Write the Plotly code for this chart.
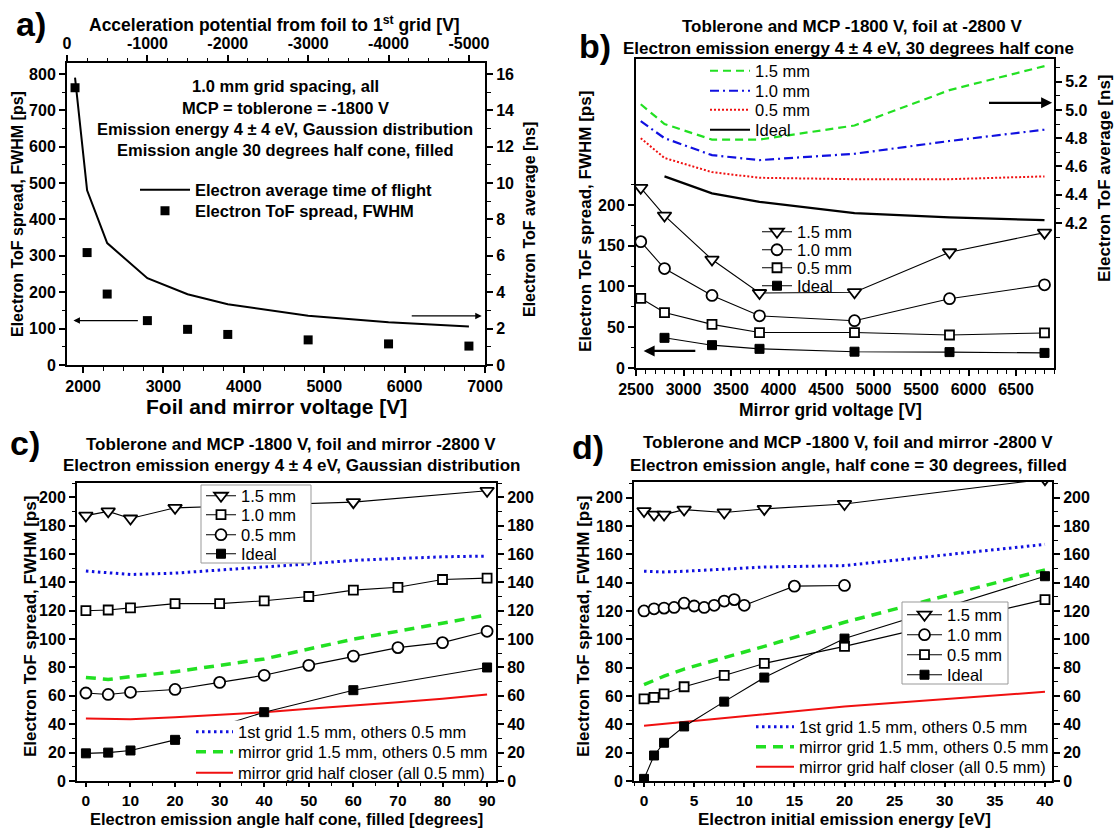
import plotly.graph_objects as go

W, H = 1115, 829
FONT = "Liberation Sans, Arial, sans-serif"

# ---------------- data: panel a ----------------
a_voltage = [1900, 2050, 2300, 2800, 3300, 3800, 4800, 5800, 6800]
a_spread_ps = [762, 309, 195, 122, 98, 84, 69, 58, 52]
a_tof_ns = [15.8, 9.6, 6.7, 4.77, 3.89, 3.34, 2.71, 2.35, 2.11]
a_top_ticks = [0, -1000, -2000, -3000, -4000, -5000]
a_top_labels = ["0", "-1000", "-2000", "-3000", "-4000", "-5000"]

# ---------------- data: panel b ----------------
b_voltage = [2550, 2800, 3300, 3800, 4800, 5800, 6800]
b_ideal_voltage = [2800, 3300, 3800, 4800, 5800, 6800]
b_spread_15 = [221, 187, 133, 92, 93, 142, 166]
b_spread_10 = [155, 122, 89, 64, 58, 85, 102]
b_spread_05 = [85.5, 68, 53.5, 43.5, 43.5, 40.5, 43]
b_spread_ideal = [37, 28, 23.5, 20, 19.5, 18.5]
b_tof_15 = [5.04, 4.90, 4.79, 4.79, 4.89, 5.14, 5.31]
b_tof_10 = [4.92, 4.80, 4.68, 4.645, 4.69, 4.78, 4.86]
b_tof_05 = [4.80, 4.66, 4.56, 4.52, 4.51, 4.51, 4.53]
b_tof_ideal = [4.53, 4.41, 4.35, 4.27, 4.24, 4.22]
b_left_ticks = [0, 50, 100, 150, 200]
b_left_minor = [25, 75, 125, 175, 225]
b_right_ticks = [4.2, 4.4, 4.6, 4.8, 5.0, 5.2]
b_right_minor = [4.1, 4.3, 4.5, 4.7, 4.9, 5.1, 5.3]

# ---------------- data: panel c ----------------
c_angle_tri = [0, 5, 10, 20, 60, 90]
c_spread_15 = [187, 190, 185, 192.5, 196.5, 204.5]
c_angle = [0, 5, 10, 20, 30, 40, 50, 60, 70, 80, 90]
c_spread_10 = [120, 120.5, 122, 125, 125, 127, 130, 134.5, 136.5, 142, 143]
c_spread_05 = [62, 61, 62.5, 64.5, 69.5, 74.5, 81.5, 88, 94, 97.5, 105.5]
c_angle_ideal = [0, 5, 10, 20, 40, 60, 90]
c_spread_ideal = [19.5, 20, 21.5, 29, 48.5, 64, 80]
c_first_grid = [148, 147, 145.5, 146.5, 148.5, 150.5, 153, 155.5, 157, 158, 158.5]
c_mirror_grid = [73, 71.5, 73.5, 77, 81.5, 86, 93, 100, 105.5, 111, 117]
c_half_closer = [44, 43.5, 43.5, 45, 46.5, 48.5, 51, 53, 55.5, 58, 61]

# ---------------- data: panel d ----------------
d_energy = [0, 1, 2, 4, 8, 12, 20, 40]
d_spread_15 = [190.5, 188, 188, 191.5, 189.5, 192, 195.5, 213]
d_energy_circ = [0, 1, 2, 3, 4, 5, 6, 7, 8, 9, 10, 15, 20]
d_spread_10 = [120, 121.5, 122, 122.5, 125.5, 123.5, 122.5, 124, 127, 128, 124, 137.5, 138]
d_spread_05 = [58, 59, 61.5, 66.5, 74.5, 83, 95, 128]
d_spread_ideal = [1.5, 18, 27, 38.5, 56, 73, 100.5, 144.5]
d_first_grid = [148, 147.5, 147.5, 148, 149.5, 151, 152, 167]
d_mirror_grid = [68, 71, 74, 79, 87, 95, 112, 149]
d_half_closer = [39, 39.7, 40.4, 41.8, 44.5, 47.2, 52.5, 63]

legend_names = ["1.5 mm", "1.0 mm", "0.5 mm", "Ideal"]
line_names = ["1st grid 1.5 mm, others 0.5 mm",
              "mirror grid 1.5 mm, others 0.5 mm",
              "mirror grid half closer (all 0.5 mm)"]

GREEN = "#22e022"
BLUE = "#1010e0"
RED = "#f01010"


def px(x):
    return x / W


def py(y):
    return 1 - y / H


fig = go.Figure()
legends = {}
LEGFONT = dict(family=FONT, size=16.5, color="black")


def new_legend(x, y, **kw):
    """One legend entry per legend so rows can be spaced like the reference."""
    key = "legend" if not legends else "legend%d" % (len(legends) + 1)
    d = dict(x=px(x), y=py(y), xanchor="left", yanchor="middle",
             bgcolor="rgba(0,0,0,0)", borderwidth=0, font=LEGFONT)
    d.update(kw)
    legends[key] = d
    return key


# ---------- panel a ----------
a_leg_rows = [190, 211]
AFONT = dict(family=FONT, size=16.5, color="black", weight="bold")
fig.add_trace(go.Scatter(x=a_voltage, y=a_tof_ns, xaxis="x", yaxis="y2", mode="lines",
                         line=dict(color="black", width=2),
                         name="Electron average time of flight",
                         legend=new_legend(135, a_leg_rows[0], font=AFONT, itemwidth=50)))
fig.add_trace(go.Scatter(x=a_voltage, y=a_spread_ps, xaxis="x", yaxis="y", mode="markers",
                         marker=dict(symbol="square", size=9, color="black"),
                         name="Electron ToF spread, FWHM",
                         legend=new_legend(135, a_leg_rows[1], font=AFONT, itemwidth=50)))
fig.add_trace(go.Scatter(x=[None], y=[None], xaxis="x2", yaxis="y", showlegend=False,
                         hoverinfo="skip"))

# ---------- panel b ----------
b_line_rows = [71, 91, 110, 130]
b_line_styles = [(b_tof_15, GREEN, "8px,5px", 2.2, b_voltage),
                 (b_tof_10, BLUE, "9px,4px,2px,4px", 2.2, b_voltage),
                 (b_tof_05, RED, "2px,2px", 2.0, b_voltage),
                 (b_tof_ideal, "black", "solid", 2.2, b_ideal_voltage)]
for (vals, col, dash, w, xs), nm, ry in zip(b_line_styles, legend_names, b_line_rows):
    fig.add_trace(go.Scatter(x=xs, y=vals, xaxis="x3", yaxis="y4", mode="lines",
                             line=dict(color=col, dash=dash, width=w), name=nm,
                             legend=new_legend(705, ry, itemwidth=40)))

mk_open_tri = dict(symbol="triangle-down", size=12, color="white",
                   line=dict(color="black", width=1.8))
mk_open_circ = dict(symbol="circle", size=11, color="white",
                    line=dict(color="black", width=1.8))
mk_open_sq = dict(symbol="square", size=9, color="white",
                  line=dict(color="black", width=1.8))
mk_fill_sq = dict(symbol="square", size=9, color="black",
                  line=dict(color="black", width=1))
LW = dict(color="black", width=1.1)

b_mark_rows = [232, 250, 268, 286]
b_marker_series = [(b_voltage, b_spread_15, mk_open_tri),
                   (b_voltage, b_spread_10, mk_open_circ),
                   (b_voltage, b_spread_05, mk_open_sq),
                   (b_ideal_voltage, b_spread_ideal, mk_fill_sq)]
for (xs, ys, mk), nm, ry in zip(b_marker_series, legend_names, b_mark_rows):
    fig.add_trace(go.Scatter(x=xs, y=ys, xaxis="x3", yaxis="y3", mode="lines+markers",
                             line=LW, marker=mk, name=nm, legend=new_legend(757, ry)))

# ---------- panel c ----------
c_line_rows = [732, 752, 773]
c_lines = [(c_first_grid, BLUE, "2.5px,3.5px", 3),
           (c_mirror_grid, GREEN, "10px,7px", 3.5),
           (c_half_closer, RED, "solid", 2)]
for (vals, col, dash, w), nm, ry in zip(c_lines, line_names, c_line_rows):
    fig.add_trace(go.Scatter(x=c_angle, y=vals, xaxis="x4", yaxis="y5", mode="lines",
                             line=dict(color=col, dash=dash, width=w), name=nm,
                             legend=new_legend(191, ry, itemwidth=37)))
c_mark_rows = [496, 515, 535, 554]
c_marker_series = [(c_angle_tri, c_spread_15, mk_open_tri),
                   (c_angle, c_spread_10, mk_open_sq),
                   (c_angle, c_spread_05, mk_open_circ),
                   (c_angle_ideal, c_spread_ideal, mk_fill_sq)]
for (xs, ys, mk), nm, ry in zip(c_marker_series, legend_names, c_mark_rows):
    fig.add_trace(go.Scatter(x=xs, y=ys, xaxis="x4", yaxis="y5", mode="lines+markers",
                             line=LW, marker=mk, name=nm, legend=new_legend(201, ry)))
fig.add_trace(go.Scatter(x=[None], y=[None], xaxis="x4", yaxis="y6", showlegend=False,
                         hoverinfo="skip"))

# ---------- panel d ----------
d_line_rows = [727, 747, 767]
d_lines = [(d_first_grid, BLUE, "2.5px,3.5px", 3),
           (d_mirror_grid, GREEN, "10px,7px", 3.5),
           (d_half_closer, RED, "solid", 2)]
for (vals, col, dash, w), nm, ry in zip(d_lines, line_names, d_line_rows):
    fig.add_trace(go.Scatter(x=d_energy, y=vals, xaxis="x5", yaxis="y7", mode="lines",
                             line=dict(color=col, dash=dash, width=w), name=nm,
                             legend=new_legend(751, ry, itemwidth=38)))
d_mark_rows = [615, 635, 655, 675]
d_marker_series = [(d_energy, d_spread_15, mk_open_tri),
                   (d_energy_circ, d_spread_10, mk_open_circ),
                   (d_energy, d_spread_05, mk_open_sq),
                   (d_energy, d_spread_ideal, mk_fill_sq)]
for (xs, ys, mk), nm, ry in zip(d_marker_series, legend_names, d_mark_rows):
    fig.add_trace(go.Scatter(x=xs, y=ys, xaxis="x5", yaxis="y7", mode="lines+markers",
                             line=LW, marker=mk, name=nm,
                             legend=new_legend(902, ry, itemwidth=35)))
fig.add_trace(go.Scatter(x=[None], y=[None], xaxis="x5", yaxis="y8", showlegend=False,
                         hoverinfo="skip"))


# ---------- axes ----------
TICKFONT = dict(family=FONT, size=16, color="black", weight="bold")
TICKFONT_CD = dict(family=FONT, size=15.5, color="black", weight="bold")


def ax(domain, rng, **kw):
    d = dict(domain=domain, range=rng, showline=True, linecolor="black", linewidth=2,
             ticks="outside", ticklen=6, tickwidth=1.5, tickcolor="black",
             showgrid=False, zeroline=False, tickfont=TICKFONT, fixedrange=True)
    d.update(kw)
    return d


def minor(**kw):
    d = dict(ticks="outside", ticklen=3.5, tickwidth=1.3, tickcolor="black", showgrid=False)
    d.update(kw)
    return d


ax_a_x = [px(67), px(485)]
ax_a_y = [py(365), py(63)]
ax_b_x = [px(636), px(1054)]
ax_b_y = [py(368), py(59)]
ax_c_x = [px(77), px(496)]
ax_c_y = [py(781), py(483)]
ax_d_x = [px(634), px(1052)]
ax_d_y = [py(781), py(482)]

layout_axes = dict(
    xaxis=ax(ax_a_x, [1800, 7000], anchor="y", tickvals=[2000, 3000, 4000, 5000, 6000, 7000],
             minor=minor(dtick=250, tick0=0)),
    xaxis2=ax(ax_a_x, [0, -5200], anchor="y", overlaying="x", side="top",
              tickvals=a_top_ticks, ticktext=a_top_labels, minor=minor(dtick=250, tick0=0)),
    yaxis=ax(ax_a_y, [0, 830], anchor="x", dtick=100, minor=minor(dtick=50, tick0=0)),
    yaxis2=ax(ax_a_y, [0, 16.6], anchor="x", overlaying="y", side="right", dtick=2,
              minor=minor(dtick=1, tick0=0)),

    xaxis3=ax(ax_b_x, [2500, 6900], anchor="y3", dtick=500, mirror=True,
              minor=minor(dtick=100, tick0=0)),
    yaxis3=ax(ax_b_y, [0, 379], anchor="x3", tickvals=b_left_ticks,
              minor=minor(tickvals=b_left_minor)),
    yaxis4=ax(ax_b_y, [3.175, 5.36], anchor="x3", overlaying="y3", side="right",
              tickvals=b_right_ticks, tickformat=".1f", minor=minor(tickvals=b_right_minor)),

    xaxis4=ax(ax_c_x, [-2, 92], anchor="y5", dtick=10, mirror=True, ticklen=4,
              tickfont=TICKFONT_CD, minor=minor(dtick=5, tick0=0, ticklen=3)),
    yaxis5=ax(ax_c_y, [0, 210], anchor="x4", dtick=20, minor=minor(dtick=10, tick0=0)),
    yaxis6=ax(ax_c_y, [0, 210], anchor="x4", overlaying="y5", side="right", dtick=20,
              minor=minor(dtick=10, tick0=0)),

    xaxis5=ax(ax_d_x, [-1, 40.7], anchor="y7", dtick=5, mirror=True, ticklen=4,
              tickfont=TICKFONT_CD, minor=minor(dtick=1, tick0=0, ticklen=3)),
    yaxis7=ax(ax_d_y, [0, 211], anchor="x5", dtick=20, minor=minor(dtick=10, tick0=0)),
    yaxis8=ax(ax_d_y, [0, 211], anchor="x5", overlaying="y7", side="right", dtick=20,
              minor=minor(dtick=10, tick0=0)),
)

# ---------- legend boxes (white backgrounds / frames) ----------
shapes = [
    dict(type="rect", xref="paper", yref="paper", x0=px(201), x1=px(311), y0=py(485),
         y1=py(563), fillcolor="white", line=dict(color="#999999", width=1), layer="above"),
    dict(type="rect", xref="paper", yref="paper", x0=px(902), x1=px(1008), y0=py(602),
         y1=py(684), fillcolor="white", line=dict(color="#999999", width=1), layer="above"),
    dict(type="rect", xref="paper", yref="paper", x0=px(181), x1=px(494), y0=py(720.5),
         y1=py(779), fillcolor="white", line=dict(width=0), layer="above"),
]

# ---------- annotations ----------
anns = []


def txt(x, y, s, size=15, bold=True, angle=0, xanchor="center"):
    anns.append(dict(x=px(x), y=py(y), xref="paper", yref="paper", text=s, showarrow=False,
                     textangle=angle, xanchor=xanchor, yanchor="middle",
                     font=dict(family=FONT, size=size, color="black",
                               weight="bold" if bold else "normal")))


TS = 17      # panel title size
AS = 17      # axis title size

# panel labels
txt(31, 24, "a)", size=34)
txt(595, 46, "b)", size=34)
txt(25, 443, "c)", size=34)
txt(588, 447, "d)", size=34)

# panel a texts
txt(274, 24, "Acceleration potential from foil to 1<sup>st</sup> grid [V]", size=17.5)
txt(276, 406, "Foil and mirror voltage [V]", size=21)
txt(17, 214, "Electron ToF spread, FWHM [ps]", size=16, angle=-90)
txt(529, 220, "Electron ToF average [ns]", size=16, angle=-90)
for yy, s in zip([86, 108, 129, 150],
                 ["1.0 mm grid spacing, all", "MCP = toblerone = -1800 V",
                  "Emission energy 4 ± 4 eV, Gaussion distribution",
                  "Emission angle 30 degrees half cone, filled"]):
    txt(285, yy, s, size=16.5)

# panel b texts
txt(852, 27, "Toblerone and MCP -1800 V, foil at -2800 V", size=TS)
txt(848, 48, "Electron emission energy 4 ± 4 eV, 30 degrees half cone", size=TS)
txt(830, 410, "Mirror grid voltage [V]", size=17.5)
txt(585, 222, "Electron ToF spread, FWHM [ps]", size=AS, angle=-90)
txt(1104, 178, "Electron ToF average [ns]", size=AS, angle=-90)

# panel c texts
txt(291, 444, "Toblerone and MCP -1800 V, foil and mirror -2800 V", size=TS)
txt(291, 465, "Electron emission energy 4 ± 4 eV, Gaussian distribution", size=TS)
txt(286, 819, "Electron emission angle half cone, filled [degrees]", size=16.5)
txt(30, 627, "Electron ToF spread, FWHM [ps]", size=AS, angle=-90)

# panel d texts
txt(848, 443, "Toblerone and MCP -1800 V, foil and mirror -2800 V", size=TS)
txt(848, 465, "Electron emission angle, half cone = 30 degrees, filled", size=TS)
txt(844, 819, "Electron initial emission energy [eV]", size=17)
txt(583, 627, "Electron ToF spread, FWHM [ps]", size=AS, angle=-90)


def arrow(x0, x1, y, xr, yr, width, head):
    anns.append(dict(x=x1, y=y, ax=x0, ay=y, xref=xr, yref=yr, axref=xr, ayref=yr,
                     showarrow=True, arrowhead=head, arrowsize=1.0, arrowwidth=width,
                     arrowcolor="black", text=""))


arrow(2700, 1880, 122, "x", "y", 1.3, 2)
arrow(6070, 6960, 2.7, "x", "y2", 1.3, 2)
arrow(6200, 6880, 5.05, "x3", "y4", 2.2, 2)
arrow(3140, 2580, 21, "x3", "y3", 2.2, 2)

fig.update_layout(
    width=W, height=H, margin=dict(l=0, r=0, t=0, b=0, autoexpand=False),
    paper_bgcolor="white", plot_bgcolor="white",
    font=dict(family=FONT, color="black"),
    annotations=anns, shapes=shapes,
    **layout_axes, **legends,
)

fig.write_html("out.html")
